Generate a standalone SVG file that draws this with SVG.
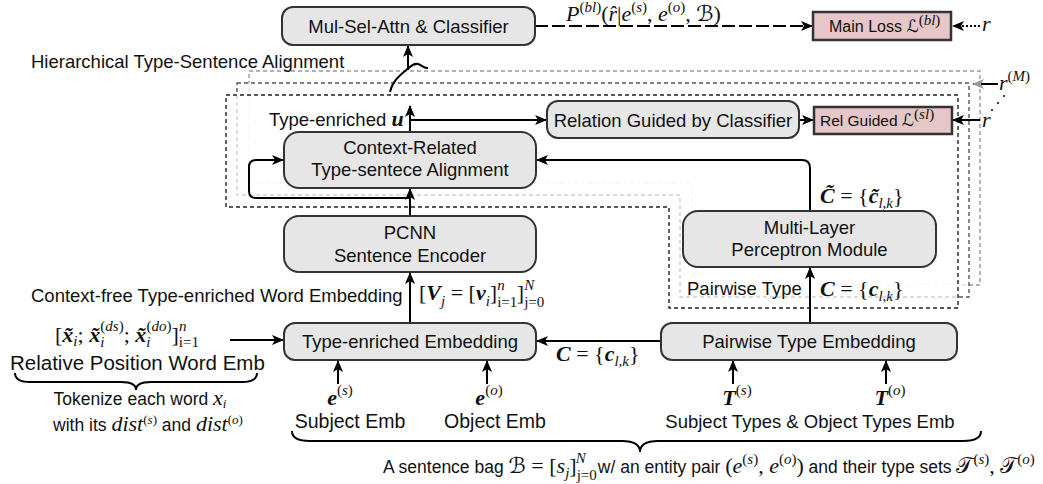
<svg xmlns="http://www.w3.org/2000/svg" width="1043" height="484" viewBox="0 0 1043 484">
<defs>
<style>
.box{fill:#e6e6e6;stroke:#333;stroke-width:2}
.loss{fill:#e6c6c6;stroke:#333;stroke-width:2.5}
.t{font-family:"Liberation Sans",Arial,sans-serif;font-size:18.5px;fill:#111}
.tm{text-anchor:middle}
.m{font-family:"Liberation Serif","DejaVu Serif",serif;font-style:italic;font-size:22px;fill:#111}
.b{font-weight:bold}
.u{font-style:normal}
.s{font-size:15px}
.ss{font-size:13px}
.cal{font-family:"DejaVu Sans","Noto Sans",sans-serif;font-style:normal}
.c{stroke:#000;stroke-width:2;fill:none}
.fr{fill:#fff;fill-opacity:0.72;stroke-width:1.4;stroke-dasharray:4 3}
</style>
<marker id="ah" viewBox="0 0 12 10" markerWidth="12" markerHeight="10" refX="11" refY="5" orient="auto" markerUnits="userSpaceOnUse"><path d="M0,0 L12,5 L0,10 L3,5 Z" fill="#000"/></marker>
<marker id="ahg" viewBox="0 0 12 10" markerWidth="12" markerHeight="10" refX="11" refY="5" orient="auto" markerUnits="userSpaceOnUse"><path d="M0,0 L12,5 L0,10 L3,5 Z" fill="#999"/></marker>
</defs>
<rect width="1043" height="484" fill="#fff"/>

<g id="frames">
<path class="fr" stroke="#999" d="M249,71 H980 V285 H692 V183 H249 Z"/>
<path class="fr" stroke="#555" d="M237,83 H969 V297 H680 V195 H237 Z"/>
<path class="fr" stroke="#222" d="M226,95 H958 V308 H669 V207 H226 Z"/>
</g>

<g id="connectors">
<line class="c" x1="535" y1="26" x2="812" y2="26" stroke-dasharray="13 4" marker-end="url(#ah)"/>
<line class="c" x1="980" y1="26" x2="953" y2="26" stroke-width="1.6" stroke-dasharray="2 2" marker-end="url(#ah)"/>
<path class="c" d="M390,92 C392,82 399,76 405,71 C410,67 413,63 418,64 C422,65 424,69 428,68"/>
<line class="c" x1="408" y1="70" x2="408" y2="46" marker-end="url(#ah)"/>
<line class="c" x1="410" y1="132" x2="410" y2="106" marker-end="url(#ah)"/>
<line class="c" x1="410" y1="120" x2="546" y2="120" marker-end="url(#ah)"/>
<line class="c" x1="799" y1="120" x2="813" y2="120" marker-end="url(#ah)"/>
<line class="c" x1="980" y1="120" x2="953" y2="120" marker-end="url(#ah)"/>
<line class="c" x1="998" y1="84" x2="973" y2="84" stroke="#999" marker-end="url(#ahg)"/>
<line class="c" x1="410" y1="216" x2="410" y2="189" marker-end="url(#ah)"/>
<path class="c" d="M410,198 H256 Q249,198 249,191 V167 Q249,160 256,160 H283" marker-end="url(#ah)"/>
<path class="c" d="M810,211 V168 Q810,160 802,160 H537" marker-end="url(#ah)"/>
<line class="c" x1="810" y1="323" x2="810" y2="268" marker-end="url(#ah)"/>
<line class="c" x1="410" y1="323" x2="410" y2="273" marker-end="url(#ah)"/>
<line class="c" x1="661" y1="341" x2="537" y2="341" marker-end="url(#ah)"/>
<line class="c" x1="230" y1="340" x2="283" y2="340" marker-end="url(#ah)"/>
<line class="c" x1="338" y1="384" x2="338" y2="361" marker-end="url(#ah)"/>
<line class="c" x1="487" y1="384" x2="487" y2="361" marker-end="url(#ah)"/>
<line class="c" x1="733" y1="384" x2="733" y2="361" marker-end="url(#ah)"/>
<line class="c" x1="886" y1="384" x2="886" y2="361" marker-end="url(#ah)"/>
<circle cx="1004" cy="96" r="1" fill="#000"/>
<circle cx="998" cy="103" r="1" fill="#000"/>
<circle cx="992" cy="110" r="1" fill="#000"/>
</g>

<g id="n_msa"><rect class="box" x="282" y="7" width="253" height="38" rx="11"/><text class="t tm" x="408.5" y="32.5">Mul-Sel-Attn &amp; Classifier</text></g>
<g id="n_main"><rect class="loss" x="813" y="12" width="138" height="28"/><text class="t" x="829" y="32" style="font-size:16px">Main Loss <tspan class="cal" style="font-size:17px">ℒ</tspan><tspan class="m s" dy="-7"><tspan class="u">(</tspan>bl<tspan class="u">)</tspan></tspan></text></g>
<g id="n_rgc"><rect class="box" x="547" y="101" width="252" height="37" rx="11"/><text class="t tm" x="673" y="126.5">Relation Guided by Classifier</text></g>
<g id="n_rgl"><rect class="loss" x="814" y="107" width="138" height="27"/><text class="t" x="820" y="126" style="font-size:15.5px">Rel Guided <tspan class="cal" style="font-size:17px">ℒ</tspan><tspan class="m s" dy="-7"><tspan class="u">(</tspan>sl<tspan class="u">)</tspan></tspan></text></g>
<g id="n_ctx"><rect class="box" x="284" y="132" width="252" height="56" rx="15"/><text class="t tm" x="410" y="153.5">Context-Related</text><text class="t tm" x="410" y="175.5">Type-sentece Alignment</text></g>
<g id="n_pcnn"><rect class="box" x="284" y="216" width="252" height="56" rx="15"/><text class="t tm" x="410" y="238.5">PCNN</text><text class="t tm" x="410" y="261.5">Sentence Encoder</text></g>
<g id="n_mlp"><rect class="box" x="683" y="211" width="253" height="56" rx="15"/><text class="t tm" x="809.5" y="233.5">Multi-Layer</text><text class="t tm" x="809.5" y="255.5">Perceptron Module</text></g>
<g id="n_tee"><rect class="box" x="284" y="323" width="252" height="37" rx="11"/><text class="t tm" x="410" y="348">Type-enriched Embedding</text></g>
<g id="n_pte"><rect class="box" x="661" y="323" width="296" height="37" rx="11"/><text class="t tm" x="809" y="348">Pairwise Type Embedding</text></g>

<g id="labels">
<text class="m" x="566" y="21">P<tspan class="s" dy="-9"><tspan class="u">(</tspan>bl<tspan class="u">)</tspan></tspan><tspan class="u" dy="9">(</tspan>r̂<tspan class="u">|</tspan>e<tspan class="s" dy="-9"><tspan class="u">(</tspan>s<tspan class="u">)</tspan></tspan><tspan class="u" dy="9">, </tspan>e<tspan class="s" dy="-9"><tspan class="u">(</tspan>o<tspan class="u">)</tspan></tspan><tspan class="u" dy="9">, </tspan><tspan class="cal">ℬ</tspan><tspan class="u">)</tspan></text>
<text class="m" x="982" y="31">r</text>
<text class="m" x="982" y="127">r</text>
<text class="m" x="999" y="90" fill="#444">r<tspan class="s" dy="-9"><tspan class="u">(</tspan>M<tspan class="u">)</tspan></tspan></text>
<text class="t" x="31" y="67.5">Hierarchical Type-Sentence Alignment</text>
<text class="t" x="269" y="125.5">Type-enriched <tspan class="m b">u</tspan></text>
<text class="m" x="820" y="203"><tspan class="b">C̃</tspan><tspan class="u"> = {</tspan><tspan class="b">c̃</tspan><tspan class="s" dy="5">l,k</tspan><tspan class="u" dy="-5">}</tspan></text>
<text class="t" x="687" y="294.5">Pairwise Type</text>
<text class="m" x="820" y="296"><tspan class="b">C</tspan><tspan class="u"> = {</tspan><tspan class="b">c</tspan><tspan class="s" dy="5">l,k</tspan><tspan class="u" dy="-5">}</tspan></text>
<text class="t" x="31" y="301.5">Context-free Type-enriched Word Embedding</text>
<text class="m" x="419" y="300"><tspan class="u">[</tspan><tspan class="b">V</tspan><tspan class="s" dy="6">j</tspan><tspan class="u" dy="-6"> = [</tspan><tspan class="b">v</tspan><tspan class="s" dy="6">i</tspan><tspan class="u" dy="-6">]</tspan><tspan class="s u" dy="7">i=1</tspan><tspan class="s" dx="-20" dy="-17">n</tspan><tspan class="u" dx="12" dy="10">]</tspan><tspan class="s u" dy="7">j=0</tspan><tspan class="s" dx="-20" dy="-17">N</tspan></text>
<text class="m" x="556" y="361"><tspan class="b">C</tspan><tspan class="u"> = {</tspan><tspan class="b">c</tspan><tspan class="s" dy="5">l,k</tspan><tspan class="u" dy="-5">}</tspan></text>
<text class="m" x="55" y="342"><tspan class="u">[</tspan><tspan class="b">x̃</tspan><tspan class="s" dy="4">i</tspan><tspan class="u" dy="-4">; </tspan><tspan class="b">x̃</tspan><tspan class="s" dy="5">i</tspan><tspan class="s" dx="-4" dy="-16"><tspan class="u">(</tspan>ds<tspan class="u">)</tspan></tspan><tspan class="u" dy="11">; </tspan><tspan class="b">x̃</tspan><tspan class="s" dy="5">i</tspan><tspan class="s" dx="-4" dy="-16"><tspan class="u">(</tspan>do<tspan class="u">)</tspan></tspan><tspan class="u" dy="11">]</tspan><tspan class="s u" dy="5">i=1</tspan><tspan class="s" dx="-20" dy="-16">n</tspan></text>
<text class="t" x="10" y="370" style="font-size:20.5px">Relative Position Word Emb</text>
<path class="c" stroke-width="1.6" d="M15,373 Q15,382 30,382 H121 Q136,382 136,390 Q136,382 151,382 H242 Q257,382 257,373"/>
<text class="t tm" x="140" y="405" style="font-size:17.5px">Tokenize each word <tspan class="m">x</tspan><tspan class="m ss" dy="3">i</tspan></text>
<text class="t tm" x="148" y="431" style="font-size:17.5px">with its <tspan class="m">dist</tspan><tspan class="m ss" dy="-7"><tspan class="u">(</tspan>s<tspan class="u">)</tspan></tspan><tspan dy="7"> and </tspan><tspan class="m">dist</tspan><tspan class="m ss" dy="-7"><tspan class="u">(</tspan>o<tspan class="u">)</tspan></tspan></text>
<text class="m tm" x="340" y="405"><tspan class="b">e</tspan><tspan class="s" dy="-10"><tspan class="u">(</tspan>s<tspan class="u">)</tspan></tspan></text>
<text class="m tm" x="489" y="405"><tspan class="b">e</tspan><tspan class="s" dy="-10"><tspan class="u">(</tspan>o<tspan class="u">)</tspan></tspan></text>
<text class="m tm" x="737" y="405"><tspan class="b">T</tspan><tspan class="s" dy="-10"><tspan class="u">(</tspan>s<tspan class="u">)</tspan></tspan></text>
<text class="m tm" x="890" y="405"><tspan class="b">T</tspan><tspan class="s" dy="-10"><tspan class="u">(</tspan>o<tspan class="u">)</tspan></tspan></text>
<text class="t tm" x="350" y="428" style="font-size:19.5px">Subject Emb</text>
<text class="t tm" x="495" y="428" style="font-size:19.5px">Object Emb</text>
<text class="t tm" x="810" y="428">Subject Types &amp; Object Types Emb</text>
<path class="c" stroke-width="1.6" d="M292,431 Q292,441 310,441 H622 Q640,441 640,452 Q640,441 658,441 H963 Q981,441 981,431"/>
<text class="t" x="383" y="473" style="font-size:17.5px">A sentence bag <tspan class="m cal">ℬ</tspan><tspan class="m u"> = [</tspan><tspan class="m">s</tspan><tspan class="m s" dy="5">j</tspan><tspan class="m u" dy="-5">]</tspan><tspan class="m s u" dy="7">j=0</tspan><tspan class="m s" dx="-21" dy="-17">N</tspan><tspan dx="12" dy="10">w/ an entity pair </tspan><tspan class="m u">(</tspan><tspan class="m">e</tspan><tspan class="m s" dy="-9"><tspan class="u">(</tspan>s<tspan class="u">)</tspan></tspan><tspan class="m u" dy="9">, </tspan><tspan class="m">e</tspan><tspan class="m s" dy="-9"><tspan class="u">(</tspan>o<tspan class="u">)</tspan></tspan><tspan class="m u" dy="9">)</tspan> and their type sets <tspan class="m cal">𝒯</tspan><tspan class="m s" dy="-9"><tspan class="u">(</tspan>s<tspan class="u">)</tspan></tspan><tspan class="m u" dy="9">, </tspan><tspan class="m cal">𝒯</tspan><tspan class="m s" dy="-9"><tspan class="u">(</tspan>o<tspan class="u">)</tspan></tspan></text>
</g>
</svg>
